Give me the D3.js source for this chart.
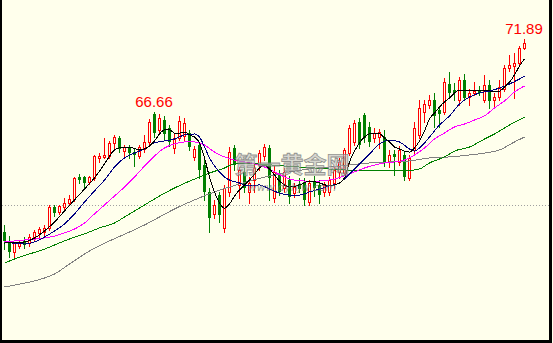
<!DOCTYPE html>
<html><head><meta charset="utf-8">
<script src="https://cdn.jsdelivr.net/npm/d3@7"></script>
<style>html,body{margin:0;padding:0;background:#ffffec;} svg{display:block}</style>
</head><body>
<svg id="c" width="553" height="343"></svg>
<script>
const open=[58.09,57.45,56.66,57.09,57.45,57.30,57.66,58.02,58.09,58.38,
59.87,59.52,59.87,60.16,60.45,62.02,62.02,61.66,61.95,63.38,
63.45,63.52,64.45,64.80,63.87,64.16,63.80,63.52,64.02,64.52,
66.52,65.38,66.09,65.52,64.09,64.80,64.95,65.16,63.45,64.30,
62.87,60.95,59.38,60.73,58.38,60.95,64.09,61.45,62.38,60.95,
61.80,62.87,63.52,64.09,60.52,62.16,61.23,61.80,60.87,61.52,
61.66,60.23,61.66,61.45,60.95,60.95,61.59,62.38,62.30,63.73,
64.52,65.95,66.45,65.59,64.80,64.87,64.87,63.09,63.66,63.09,
63.59,61.95,63.95,65.02,66.66,67.16,67.52,66.80,66.66,68.66,
68.23,67.52,68.95,67.73,68.02,68.23,67.52,68.59,67.52,67.73,
68.30,69.80,69.95,70.16,71.23];
const high=[58.59,57.80,57.38,57.45,57.73,57.95,58.23,58.45,58.59,60.02,
60.02,60.02,60.52,60.73,62.02,62.23,62.09,62.09,63.59,63.73,
64.80,64.59,65.02,64.95,64.30,64.30,64.09,64.30,65.02,66.16,
66.66,66.52,66.38,65.73,65.16,66.38,66.23,65.38,64.23,64.52,
63.23,61.23,60.38,60.95,61.45,64.16,64.30,62.73,62.66,62.02,
63.02,63.95,64.38,64.30,62.80,62.52,62.66,62.09,61.59,61.95,
61.95,61.80,62.09,61.80,61.66,62.02,62.73,63.38,64.09,65.73,
66.09,66.23,66.59,65.95,65.52,65.45,65.38,63.95,63.95,64.23,
63.80,63.59,65.95,67.52,67.52,67.88,68.02,67.09,69.09,69.52,
68.73,69.16,69.38,68.30,68.80,68.52,69.31,68.95,68.02,68.95,
70.02,70.73,70.87,71.38,71.89];
const low=[56.87,56.30,56.16,56.95,56.95,57.09,57.52,57.73,57.87,58.23,
59.23,59.38,59.66,60.09,60.30,61.59,61.23,61.52,61.80,63.09,
63.38,63.38,64.02,63.80,63.45,63.38,62.80,63.38,63.80,64.38,
64.87,65.16,64.66,64.23,63.73,64.66,64.59,63.95,63.23,61.95,
60.38,58.09,59.09,58.80,58.09,60.66,62.52,60.52,60.95,60.16,
60.95,62.52,63.23,60.38,60.23,60.73,60.95,60.16,60.59,60.95,
60.02,60.02,60.66,60.16,60.66,60.73,61.23,61.95,62.16,63.59,
64.30,64.09,64.52,64.23,64.52,64.09,62.80,62.73,62.16,62.87,
61.80,61.80,63.59,64.80,65.95,66.95,65.59,65.59,66.52,67.80,
67.52,67.16,67.52,67.16,67.88,67.88,67.38,66.95,67.09,67.52,
68.16,69.59,67.66,70.02,71.16];
const close=[57.45,56.66,57.30,57.30,57.16,57.73,58.09,58.30,58.38,59.87,
59.45,59.95,60.16,60.45,61.95,61.80,61.59,62.02,63.52,63.52,
63.59,64.45,64.87,64.02,64.16,63.73,63.59,64.16,64.52,65.95,
65.16,66.23,65.09,64.52,64.80,66.02,65.87,64.16,64.02,62.52,
60.95,59.09,60.02,59.30,61.23,63.80,62.87,62.52,61.23,61.59,
62.66,63.73,64.16,61.95,62.38,60.95,62.38,60.59,61.30,61.16,
60.38,61.59,61.23,60.73,61.45,61.80,62.52,63.09,63.95,65.52,
65.87,64.30,64.80,64.52,65.16,65.23,63.02,63.59,63.45,63.95,
62.02,63.38,65.52,66.95,67.23,67.52,66.38,66.52,68.80,68.02,
68.02,68.95,67.66,68.02,68.16,68.02,68.59,67.45,67.73,68.45,
69.80,70.02,70.16,71.23,71.59];

// moving averages: [bar index, value]
const ma5=[[0,57.30],[4,57.38],[6,57.66],[8,58.16],[10,58.80],[12,59.59],[14,60.38],[16,61.16],[18,61.95],[20,62.95],[22,63.95],[23,64.09],[25,64.16],[27,63.95],[28,64.02],[30,64.59],[31,65.09],[32,65.38],[33,65.38],[34,65.16],[35,65.16],[36,65.23],[37,65.02],[38,64.87],[39,64.45],[40,63.38],[41,62.02],[42,60.95],[43,60.16],[44,59.80],[45,60.09],[46,60.66],[47,61.09],[48,61.45],[49,61.80],[50,62.23],[51,62.66],[52,62.87],[53,62.59],[54,62.16],[55,61.73],[56,61.45],[57,61.30],[59,61.45],[61,61.73],[63,61.59],[65,61.38],[67,61.59],[68,61.95],[69,63.09],[70,63.87],[71,64.45],[72,64.87],[73,65.09],[75,65.09],[76,64.80],[77,64.52],[78,64.16],[79,64.02],[80,63.87],[81,63.80],[82,64.09],[83,64.59],[84,65.30],[85,66.16],[86,66.59],[87,67.02],[88,67.38],[89,67.66],[90,68.02],[91,68.23],[93,68.23],[95,68.23],[97,68.16],[99,68.16],[100,68.45],[101,68.80],[102,69.31],[103,69.95],[104,70.45]];
const ma10=[[0,57.38],[4,57.23],[6,57.38],[8,57.73],[10,58.16],[12,58.66],[14,59.38],[16,60.23],[18,61.02],[20,61.80],[22,62.73],[24,63.38],[26,63.73],[28,64.02],[30,64.45],[32,64.59],[34,64.73],[36,65.02],[38,65.09],[39,64.87],[40,64.16],[41,63.38],[42,62.80],[43,62.38],[44,62.02],[45,61.80],[47,61.59],[49,61.38],[51,61.45],[53,61.16],[55,60.87],[57,60.73],[59,60.73],[61,60.95],[63,61.16],[65,61.38],[67,61.59],[69,62.23],[71,62.95],[73,63.66],[75,64.38],[77,64.66],[79,64.52],[81,64.02],[82,63.87],[83,64.09],[85,64.87],[87,65.73],[89,66.38],[91,67.23],[93,67.73],[95,68.02],[97,68.16],[99,68.37],[101,68.66],[103,69.02],[104,69.23]];
const ma20=[[0,57.38],[4,57.52],[8,57.66],[10,57.80],[12,58.02],[14,58.30],[16,58.73],[18,59.38],[20,60.02],[22,60.66],[24,61.30],[26,62.02],[28,62.80],[30,63.52],[32,64.09],[34,64.38],[36,64.52],[38,64.52],[40,64.30],[42,63.80],[44,63.45],[46,63.23],[48,63.09],[50,62.95],[52,62.73],[54,62.38],[56,62.02],[58,61.80],[60,61.73],[63,61.73],[66,61.87],[68,62.09],[70,62.38],[72,62.66],[74,62.87],[76,63.02],[78,63.09],[80,63.23],[82,63.59],[84,64.09],[86,64.73],[88,65.16],[90,65.59],[92,65.80],[94,66.09],[96,66.38],[98,66.95],[100,67.45],[102,68.09],[104,68.52]];
const ma60=[[0,55.87],[2,56.16],[5,56.52],[8,56.87],[10,57.16],[13,57.59],[16,57.95],[19,58.38],[22,58.73],[24,59.16],[27,59.80],[30,60.45],[34,61.23],[38,61.87],[41,62.30],[44,62.66],[46,62.95],[50,62.95],[56,62.80],[62,62.66],[68,62.52],[74,62.45],[80,62.45],[83,62.59],[85,63.02],[88,63.45],[90,63.87],[93,64.16],[96,64.73],[98,65.09],[101,65.73],[104,66.30]];
const ma120=[[0,54.16],[2,54.30],[6,54.59],[10,55.09],[13,55.80],[17,56.73],[21,57.45],[25,58.09],[28,58.59],[31,59.16],[34,59.73],[38,60.38],[42,60.95],[45,61.30],[49,61.73],[53,62.09],[57,62.38],[61,62.59],[67,62.80],[73,63.02],[77,63.09],[81,63.16],[85,63.38],[89,63.45],[93,63.59],[96,63.73],[99,63.95],[102,64.52],[104,64.87]];
const refLine=60.02;
const labelIdx=[30,104];
const watermark="第一黄金网";
const watermarkUrl="www.dyhjw.com";

const W=553,H=343,BG="#ffffec";
const UP="#ff0000",DOWN="#008000";
const svg=d3.select("#c");
svg.append("rect").attr("width",W).attr("height",H).attr("fill",BG);

const x=d3.scaleLinear().domain([0,open.length-1]).range([4,524]);
const y=d3.scaleLinear().domain([74.66,50.16]).range([0,343]);

// reference dotted line
svg.append("line").attr("x1",2).attr("x2",549).attr("y1",Math.round(y(refLine))+0.5).attr("y2",Math.round(y(refLine))+0.5)
  .attr("stroke","#a0a0a0").attr("stroke-width",1).attr("stroke-dasharray","1,2");

const g=svg.append("g").attr("shape-rendering","crispEdges");
open.forEach((o,i)=>{
  const c=close[i],up=c>=o,cx=Math.round(x(i));
  const col=up?UP:DOWN;
  g.append("line").attr("x1",cx+0.5).attr("x2",cx+0.5)
    .attr("y1",Math.round(y(high[i]))).attr("y2",Math.round(y(low[i]))+1)
    .attr("stroke",col).attr("stroke-width",1);
  const yo=Math.round(y(o)),yc=Math.round(y(c));
  if(up){
    g.append("rect").attr("x",cx-0.5).attr("y",yc+0.5).attr("width",2).attr("height",Math.max(yo-yc,1))
      .attr("fill",BG).attr("stroke",col).attr("stroke-width",1);
  }else{
    g.append("rect").attr("x",cx-1).attr("y",yo).attr("width",3).attr("height",Math.max(yc-yo,1))
      .attr("fill",col);
  }
});

const line=d3.line().x(d=>x(d[0])+0.5).y(d=>y(d[1])).curve(d3.curveMonotoneX);
[[ma120,"#808080"],[ma60,"#008000"],[ma20,"#ff00ff"],[ma10,"#000080"],[ma5,"#000000"]].forEach(([s,col])=>{
  svg.append("path").attr("d",line(s)).attr("fill","none").attr("stroke",col).attr("stroke-width",1)
    .attr("shape-rendering","crispEdges");
});

// watermark
svg.append("text").attr("x",292).attr("y",173).attr("text-anchor","middle")
  .attr("font-family","'Noto Sans CJK SC',sans-serif").attr("font-weight","bold").attr("font-size",23)
  .attr("fill","#bdbdbd").attr("fill-opacity",0.6).attr("stroke","#7a7a7a").attr("stroke-width",0.8).attr("stroke-opacity",0.8)
  .text(watermark);
svg.append("text").attr("x",292).attr("y",191).attr("text-anchor","middle")
  .attr("font-family","'DejaVu Sans',sans-serif").attr("font-size",11).attr("font-style","italic")
  .attr("fill","#808080").attr("fill-opacity",0.75).text(watermarkUrl);

// high labels
labelIdx.forEach(i=>{
  svg.append("text").attr("x",x(i)).attr("y",y(high[i])-5).attr("text-anchor","middle")
    .attr("font-family","'Liberation Sans',Arial,sans-serif").attr("font-size",15)
    .attr("fill","#ff0000").text(high[i].toFixed(2));
});

// frame
const f=svg.append("g").attr("shape-rendering","crispEdges");
f.append("rect").attr("x",0).attr("y",0).attr("width",2).attr("height",343).attr("fill","#000");
f.append("rect").attr("x",0).attr("y",340).attr("width",552).attr("height",3).attr("fill","#000");
f.append("rect").attr("x",549).attr("y",0).attr("width",3).attr("height",343).attr("fill","#000");
</script>
</body></html>
